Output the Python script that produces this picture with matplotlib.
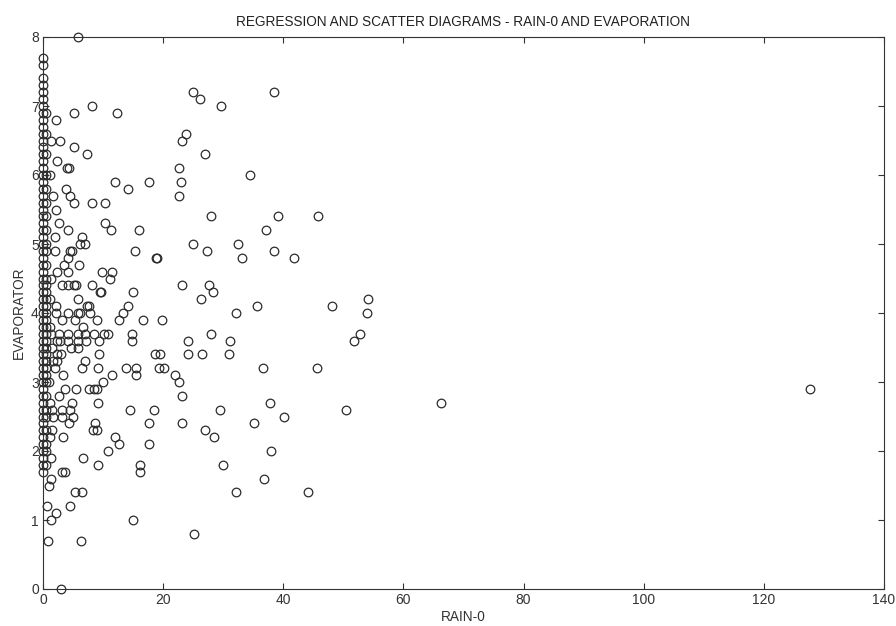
import matplotlib
matplotlib.use("Agg")
import matplotlib.pyplot as plt
import numpy as np

# evaporation on days with no rain (x = 0)
dry_evap = [7.7, 7.6, 7.4, 7.3, 7.2, 7.1, 7.0, 6.9, 6.8, 6.7, 6.6, 6.5, 6.4, 6.3,
            6.2, 6.1, 6.0, 5.9, 5.8, 5.7, 5.6, 5.5, 5.4, 5.3, 5.2, 5.1, 5.0, 4.9,
            4.8, 4.7, 4.6, 4.5, 4.4, 4.3, 4.2, 4.1, 4.0, 3.9, 3.8, 3.7, 3.6, 3.5,
            3.4, 3.3, 3.2, 3.1, 3.0, 2.9, 2.8, 2.7, 2.6, 2.5, 2.4, 2.3, 2.2, 2.1,
            2.0, 1.9, 1.8, 1.7]

# trace rain days (x about 0.5)
trace_rain = 0.5
trace_evap = [1.8, 2.0, 2.1, 2.3, 2.5, 2.6, 2.8, 3.0, 3.1, 3.2, 3.3, 3.4, 3.5,
              3.6, 3.7, 3.8, 3.9, 4.0, 4.1, 4.2, 4.3, 4.4, 4.5, 4.7, 4.9, 5.0,
              5.2, 5.4, 5.6, 5.8, 6.0, 6.3, 6.6, 6.9]

# remaining rain days
rain = [5.9, 2.2, 5.2, 8.2, 12.4, 25.0, 26.2, 29.6, 38.4, 1.3, 2.9, 5.2, 7.4, 2.3,
        4.0, 4.3, 1.2, 12.0, 14.1, 17.6, 22.6, 22.9, 22.6, 23.2, 23.8, 27.0, 34.4,
        3.8, 4.5, 5.2, 1.7, 2.2, 8.2, 10.3, 10.3, 11.3, 15.9, 4.2, 6.5, 7.0, 2.0,
        2.0, 4.5, 4.9, 6.1, 4.2, 6.0, 2.4, 4.2, 9.8, 11.5, 11.1, 5.2, 5.5, 8.2,
        9.5, 9.6, 3.1, 4.2, 15.0, 15.3, 18.8, 18.9, 25.0, 27.3, 28.0, 32.4, 33.2,
        37.2, 39.1, 38.4, 41.8, 45.7, 23.2, 27.6, 28.3, 26.3, 35.6, 32.2, 48.1,
        54.1, 53.9, 52.8, 51.8, 45.6, 40.2, 50.5, 66.3, 44.1, 127.7, 5.9, 7.3,
        7.6, 2.2, 14.2, 13.4, 4.2, 5.9, 7.8, 12.7, 16.6, 19.8, 9.0, 6.6, 8.5,
        10.1, 10.9, 5.8, 5.8, 7.2, 9.4, 14.8, 14.8, 24.1, 28.0, 31.1, 30.9, 24.1,
        26.4, 18.7, 19.4, 19.3, 20.1, 21.9, 22.6, 23.2, 36.6, 37.8, 35.2, 37.9,
        36.8, 32.2, 30.0, 29.5, 26.9, 28.4, 23.2, 25.1, 17.7, 17.6, 18.5, 14.4,
        15.4, 15.4, 13.9, 16.1, 16.1, 14.9, 12.0, 12.7, 10.9, 11.5, 10.0, 9.2,
        9.0, 8.5, 7.7, 8.7, 9.0, 8.3, 9.1, 6.7, 6.5, 7.0, 9.1, 5.9, 5.5, 3.7,
        2.6, 4.8, 4.5, 3.1, 5.0, 4.4, 1.7, 3.4, 3.2, 3.6, 5.3, 6.5, 4.5, 2.2,
        1.3, 0.7, 0.8, 6.3, 3.0, 1.3, 1.0, 1.3, 2.0, 9.4, 1.5, 3.2, 2.1, 6.2,
        3.1, 5.3, 1.3, 2.6, 4.1, 7.0, 2.3, 4.2, 1.5, 4.6, 2.3, 1.6, 2.4, 3.0, 2.8,
        1.1, 1.2, 1.4, 1.0, 1.2, 1.5, 1.1, 3.5, 2.7, 3.3]
evap = [8.0, 6.8, 6.9, 7.0, 6.9, 7.2, 7.1, 7.0, 7.2, 6.5, 6.5, 6.4, 6.3, 6.2,
        6.1, 6.1, 6.0, 5.9, 5.8, 5.9, 6.1, 5.9, 5.7, 6.5, 6.6, 6.3, 6.0,
        5.8, 5.7, 5.6, 5.7, 5.5, 5.6, 5.6, 5.3, 5.2, 5.2, 5.2, 5.1, 5.0, 5.1,
        4.9, 4.9, 4.9, 5.0, 4.8, 4.7, 4.6, 4.6, 4.6, 4.6, 4.5, 4.4, 4.4, 4.4,
        4.3, 4.3, 4.4, 4.4, 4.3, 4.9, 4.8, 4.8, 5.0, 4.9, 5.4, 5.0, 4.8,
        5.2, 5.4, 4.9, 4.8, 5.4, 4.4, 4.4, 4.3, 4.2, 4.1, 4.0, 4.1,
        4.2, 4.0, 3.7, 3.6, 3.2, 2.5, 2.6, 2.7, 1.4, 2.9, 4.2, 4.1,
        4.1, 4.1, 4.1, 4.0, 4.0, 4.0, 4.0, 3.9, 3.9, 3.9, 3.9, 3.8, 3.7,
        3.7, 3.7, 3.7, 3.6, 3.6, 3.6, 3.7, 3.6, 3.6, 3.7, 3.6, 3.4, 3.4,
        3.4, 3.4, 3.4, 3.2, 3.2, 3.1, 3.0, 2.8, 3.2, 2.7, 2.4, 2.0,
        1.6, 1.4, 1.8, 2.6, 2.3, 2.2, 2.4, 0.8, 2.4, 2.1, 2.6, 2.6,
        3.2, 3.1, 3.2, 1.8, 1.7, 1.0, 2.2, 2.1, 2.0, 3.1, 3.0, 2.7,
        2.9, 2.9, 2.9, 2.4, 2.3, 2.3, 1.8, 1.9, 3.2, 3.3, 3.2, 3.5, 2.9, 2.9,
        2.8, 2.7, 2.6, 2.6, 2.5, 2.4, 2.5, 2.2, 1.7, 1.7, 1.4, 1.4, 1.2, 1.1,
        1.0, 1.2, 0.7, 0.7, 0.0, 1.6, 1.5, 1.9, 3.2, 3.4, 2.6, 2.5, 4.0, 4.0,
        3.9, 3.9, 3.7, 3.7, 3.7, 3.7, 3.6, 3.6, 3.5, 3.5, 3.4, 3.3, 3.3, 3.4, 3.6,
        3.8, 4.2, 4.5, 3.0, 2.7, 2.3, 2.2, 4.7, 5.3, 3.1]

x_ticks = [0, 20, 40, 60, 80, 100, 120, 140]
y_ticks = [0, 1, 2, 3, 4, 5, 6, 7, 8]

plt.rcParams['font.family'] = ['Liberation Sans', 'DejaVu Sans']

fig = plt.figure(figsize=(8.96, 6.26), dpi=100)
ax = fig.add_axes([43 / 896, 37 / 626, 841 / 896, 552 / 626])

all_x = [0.0] * len(dry_evap) + [trace_rain] * len(trace_evap) + rain
all_y = dry_evap + trace_evap + evap
ax.plot(all_x, all_y, 'o', markersize=6.2, markerfacecolor='none',
        markeredgecolor='#2b2b2b', markeredgewidth=0.9, clip_on=False)

ax.set_xlim(0, 140)
ax.set_ylim(0, 8)
ax.set_xticks(x_ticks)
ax.set_yticks(y_ticks)
ax.tick_params(direction='in', length=4, width=0.8, top=True, right=True,
               labelsize=10, colors='#333333', pad=3)
for s in ax.spines.values():
    s.set_color('#333333')
    s.set_linewidth(0.8)

ax.set_title("REGRESSION AND SCATTER DIAGRAMS - RAIN-0 AND EVAPORATION",
             fontsize=9.8, color='#222222', pad=8)
ax.set_xlabel("RAIN-0", fontsize=9.8, color='#333333', labelpad=2)
ax.set_ylabel("EVAPORATOR", fontsize=9.8, color='#333333', labelpad=4)

fig.savefig("out.png", dpi=100)
